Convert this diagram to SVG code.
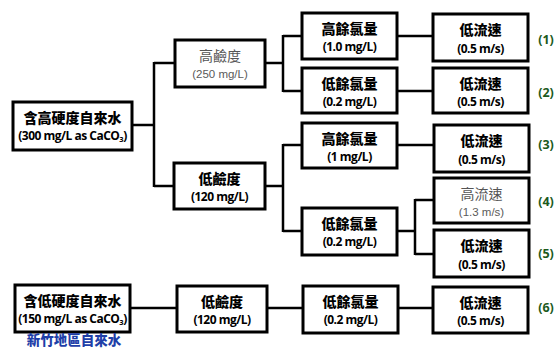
<svg xmlns="http://www.w3.org/2000/svg" width="559" height="349" viewBox="0 0 559 349">
<style>
.box{fill:#fff;stroke:#000;stroke-width:3}
.ln{fill:none;stroke:#000;stroke-width:2.5}
.t1{font-family:"Noto Sans CJK TC","Noto Sans CJK SC",sans-serif;font-weight:900;font-size:14px;fill:#000;text-anchor:middle}
.t2{font-family:"Open Sans","Liberation Sans",sans-serif;font-weight:700;font-size:12px;fill:#000;text-anchor:middle;letter-spacing:-0.5px}
.g1{font-family:"Noto Sans CJK TC","Noto Sans CJK SC",sans-serif;font-weight:400;font-size:14px;fill:#555;text-anchor:middle}
.g2{font-family:"Liberation Sans",Arial,sans-serif;font-size:11.5px;fill:#5a5a5a;text-anchor:middle}
.lab{font-family:"Open Sans","Liberation Sans",sans-serif;font-weight:700;font-size:12.5px;fill:#1c5a1c;text-anchor:middle}
.blue{font-family:"Noto Sans CJK TC","Noto Sans CJK SC",sans-serif;font-weight:900;font-size:13.5px;fill:#1f3fa8;text-anchor:middle}
</style>
<g id="connectors">
<path class="ln" d="M132,125H154M154,62V187M154,63H175M154,186H174"/>
<path class="ln" d="M265,63H283M283,35V92M283,36H302M283,91H302"/>
<path class="ln" d="M397,36H433M397,91H433"/>
<path class="ln" d="M265,186H283M283,144V232M283,145H302M283,231H302"/>
<path class="ln" d="M397,145H434M397,231H415M415,199V255M415,200H434M415,254H434"/>
<path class="ln" d="M130,308H177M267,308H303M398,308H433"/>
</g>
<g id="n1"><rect class="box" x="13" y="102" width="119" height="48"/><text class="t1" x="72.5" y="123">含高硬度自來水</text><text class="t2" x="72.5" y="140">(300 mg/L as CaCO<tspan font-size="7.5" dy="2">3</tspan><tspan dy="-2">)</tspan></text></g>
<g id="n2"><rect class="box" x="175" y="40" width="90" height="47"/><text class="g1" x="220" y="61">高鹼度</text><text class="g2" x="220" y="78">(250 mg/L)</text></g>
<g id="n3"><rect class="box" x="174" y="163" width="91" height="46"/><text class="t1" x="219.5" y="184">低鹼度</text><text class="t2" x="219.5" y="201">(120 mg/L)</text></g>
<g id="n4"><rect class="box" x="302" y="13" width="95" height="46"/><text class="t1" x="349.5" y="34">高餘氯量</text><text class="t2" x="349.5" y="51">(1.0 mg/L)</text></g>
<g id="n5"><rect class="box" x="302" y="68" width="95" height="45"/><text class="t1" x="349.5" y="89">低餘氯量</text><text class="t2" x="349.5" y="106">(0.2 mg/L)</text></g>
<g id="n6"><rect class="box" x="433" y="14" width="95" height="47"/><text class="t1" x="480.5" y="35">低流速</text><text class="t2" x="480.5" y="53">(0.5 m/s)</text></g>
<g id="n7"><rect class="box" x="433" y="68" width="95" height="45"/><text class="t1" x="480.5" y="89">低流速</text><text class="t2" x="480.5" y="106">(0.5 m/s)</text></g>
<g id="n8"><rect class="box" x="302" y="123" width="95" height="45"/><text class="t1" x="349.5" y="144">高餘氯量</text><text class="t2" x="349.5" y="161">(1 mg/L)</text></g>
<g id="n9"><rect class="box" x="302" y="208" width="95" height="47"/><text class="t1" x="349.5" y="229">低餘氯量</text><text class="t2" x="349.5" y="246">(0.2 mg/L)</text></g>
<g id="n10"><rect class="box" x="434" y="125" width="95" height="47"/><text class="t1" x="481.5" y="146">低流速</text><text class="t2" x="481.5" y="164">(0.5 m/s)</text></g>
<g id="n11"><rect class="box" x="434" y="178" width="95" height="45"/><text class="g1" x="481.5" y="199">高流速</text><text class="g2" x="481.5" y="216">(1.3 m/s)</text></g>
<g id="n12"><rect class="box" x="434" y="230" width="95" height="47"/><text class="t1" x="481.5" y="251">低流速</text><text class="t2" x="481.5" y="269">(0.5 m/s)</text></g>
<g id="n13"><rect class="box" x="15" y="285" width="115" height="47"/><text class="t1" x="72.5" y="306">含低硬度自來水</text><text class="t2" x="72.5" y="323">(150 mg/L as CaCO<tspan font-size="7.5" dy="2">3</tspan><tspan dy="-2">)</tspan></text><text class="blue" x="74" y="345">新竹地區自來水</text></g>
<g id="n14"><rect class="box" x="177" y="286" width="90" height="46"/><text class="t1" x="222" y="307">低鹼度</text><text class="t2" x="222" y="324">(120 mg/L)</text></g>
<g id="n15"><rect class="box" x="303" y="286" width="95" height="47"/><text class="t1" x="350.5" y="307">低餘氯量</text><text class="t2" x="350.5" y="324">(0.2 mg/L)</text></g>
<g id="n16"><rect class="box" x="433" y="287" width="95" height="46"/><text class="t1" x="480.5" y="308">低流速</text><text class="t2" x="480.5" y="325">(0.5 m/s)</text></g>
<g id="labels">
<text class="lab" x="546" y="44">(1)</text>
<text class="lab" x="546" y="97">(2)</text>
<text class="lab" x="546" y="149">(3)</text>
<text class="lab" x="546" y="206">(4)</text>
<text class="lab" x="546" y="258">(5)</text>
<text class="lab" x="546" y="312">(6)</text>
</g>
</svg>
